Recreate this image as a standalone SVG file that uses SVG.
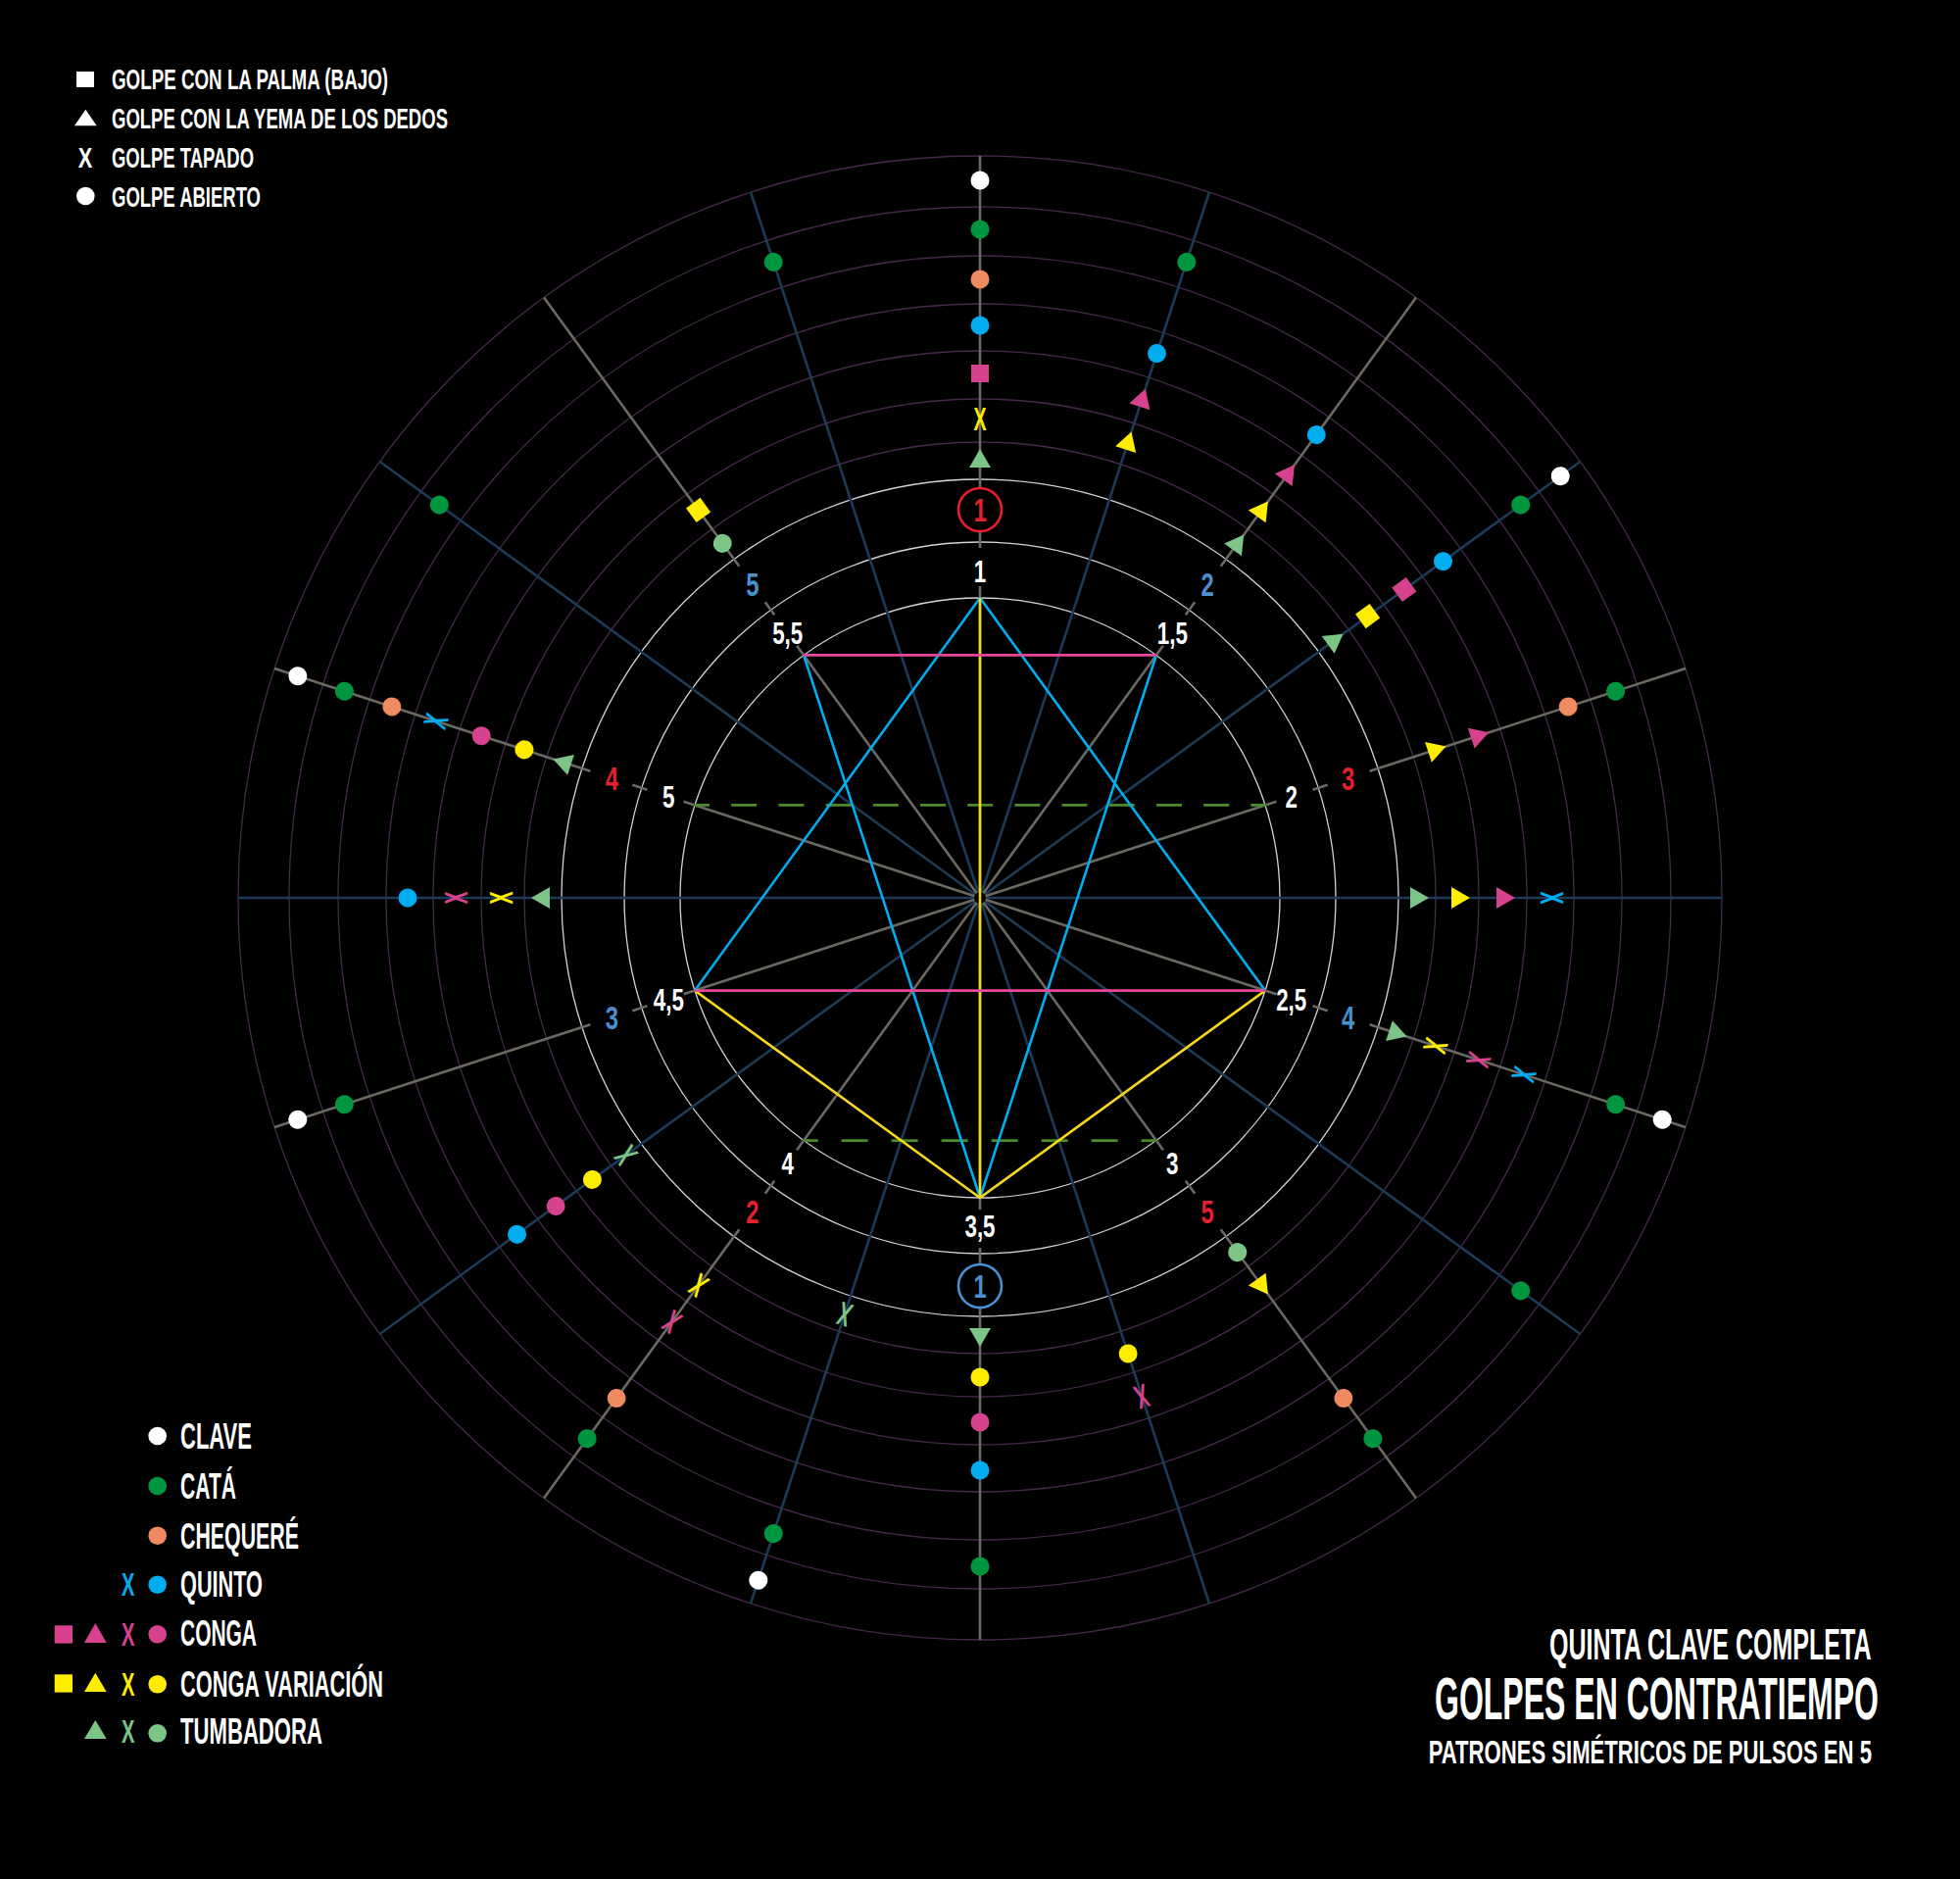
<svg xmlns="http://www.w3.org/2000/svg" xmlns:xlink="http://www.w3.org/1999/xlink" width="2000" height="1917" viewBox="0 0 2000 1917">
<style>
text{font-family:"Liberation Sans",Arial,sans-serif;font-weight:bold}
.ring{fill:none;stroke:#46294b;stroke-width:1.3}
.wring{fill:none;stroke:#d4d4d4;stroke-width:1.3}
.gray line{stroke:#6b6a62;stroke-width:2.6}
.blue{stroke:#1d3a57;stroke-width:2.6}
.pl{fill:none;stroke-width:2.6;stroke-linejoin:round}
.cl{fill:#ffffff}.ca{fill:#009640}.ch{fill:#f08a60}.qu{fill:#00aeef}.co{fill:#d6428e}.cv{fill:#ffed00}.tu{fill:#7dc487}
.lw{fill:#ffffff;font-size:32px;text-anchor:middle}
.lr{fill:#e3202c;font-size:34px;text-anchor:middle}
.lb{fill:#4a8fd0;font-size:34px;text-anchor:middle}
.leg{fill:#ffffff;font-size:29px}
.leg2{fill:#ffffff;font-size:37px}
.ttl{fill:#ffffff;text-anchor:end}
</style>
<defs>
<circle id="d" r="9.5"/>
<rect id="s" x="-9" y="-9" width="18" height="18"/>
<polygon id="t" points="0,-11 11,8 -11,8"/>
<text id="x" transform="scale(0.575 1)" y="12" text-anchor="middle" font-size="34">X</text>
<g id="gr" class="gray">
<line x1="1000" y1="916" x2="1000" y2="598"/>
<line x1="1000" y1="559" x2="1000" y2="543"/>
<line x1="1000" y1="498" x2="1000" y2="159"/>
</g>
<line id="br" class="blue" x1="1000" y1="916" x2="1000" y2="159"/>
</defs>
<rect width="2000" height="1917" fill="#000000"/>

<g id="rings">
<circle class="ring" cx="1000" cy="916" r="757"/>
<circle class="ring" cx="1000" cy="916" r="705"/>
<circle class="ring" cx="1000" cy="916" r="655"/>
<circle class="ring" cx="1000" cy="916" r="606"/>
<circle class="ring" cx="1000" cy="916" r="558"/>
<circle class="ring" cx="1000" cy="916" r="509"/>
<circle class="ring" cx="1000" cy="916" r="465"/>
<circle class="wring" cx="1000" cy="916" r="427"/>
<circle class="wring" cx="1000" cy="916" r="363"/>
<circle class="wring" cx="1000" cy="916" r="306"/>
</g>

<g id="connectors">
<g id="rays-blue">
<use href="#br" transform="rotate(18 1000 916)"/>
<use href="#br" transform="rotate(54 1000 916)"/>
<use href="#br" transform="rotate(90 1000 916)"/>
<use href="#br" transform="rotate(126 1000 916)"/>
<use href="#br" transform="rotate(162 1000 916)"/>
<use href="#br" transform="rotate(198 1000 916)"/>
<use href="#br" transform="rotate(234 1000 916)"/>
<use href="#br" transform="rotate(270 1000 916)"/>
<use href="#br" transform="rotate(306 1000 916)"/>
<use href="#br" transform="rotate(342 1000 916)"/>
</g>
<g id="rays-gray">
<use href="#gr"/>
<use href="#gr" transform="rotate(36 1000 916)"/>
<use href="#gr" transform="rotate(72 1000 916)"/>
<use href="#gr" transform="rotate(108 1000 916)"/>
<use href="#gr" transform="rotate(144 1000 916)"/>
<use href="#gr" transform="rotate(180 1000 916)"/>
<use href="#gr" transform="rotate(216 1000 916)"/>
<use href="#gr" transform="rotate(252 1000 916)"/>
<use href="#gr" transform="rotate(288 1000 916)"/>
<use href="#gr" transform="rotate(324 1000 916)"/>
</g>
<circle cx="1000" cy="916" r="6" fill="#000000"/>
<g id="polygons">
<line class="pl" x1="709" y1="821.4" x2="1291" y2="821.4" stroke="#4a8c2a" stroke-dasharray="26 22.2" stroke-dashoffset="11"/>
<line class="pl" x1="820.1" y1="1163.6" x2="1179.9" y2="1163.6" stroke="#4a8c2a" stroke-dasharray="27 24" stroke-dashoffset="12.5"/>
<polyline class="pl" points="709,1010.6 1000,610 1291,1010.6" stroke="#00aeef"/>
<polyline class="pl" points="820.1,668.4 1000,1222 1179.9,668.4" stroke="#00aeef"/>
<line class="pl" x1="1000" y1="610" x2="1000" y2="1222" stroke="#f9d71c"/>
<polyline class="pl" points="709,1010.6 1000,1222 1291,1010.6" stroke="#f9d71c"/>
<line class="pl" x1="820.1" y1="668.4" x2="1179.9" y2="668.4" stroke="#e8489a"/>
<line class="pl" x1="709" y1="1010.6" x2="1291" y2="1010.6" stroke="#e8489a"/>
</g>
</g>

<g id="labels-inner">
<text class="lw" transform="translate(1000 593.5) scale(0.7 1)">1</text>
<text class="lw" transform="translate(1196.3 657.3) scale(0.7 1)">1,5</text>
<text class="lw" transform="translate(1317.7 824.3) scale(0.7 1)">2</text>
<text class="lw" transform="translate(1317.7 1030.7) scale(0.7 1)">2,5</text>
<text class="lw" transform="translate(1196.3 1197.7) scale(0.7 1)">3</text>
<text class="lw" transform="translate(1000 1262) scale(0.7 1)">3,5</text>
<text class="lw" transform="translate(803.7 1197.7) scale(0.7 1)">4</text>
<text class="lw" transform="translate(682.3 1030.7) scale(0.7 1)">4,5</text>
<text class="lw" transform="translate(682.3 824.3) scale(0.7 1)">5</text>
<text class="lw" transform="translate(803.7 657.3) scale(0.7 1)">5,5</text>
</g>
<g id="labels-outer">
<g id="start-red">
<circle cx="1000" cy="520" r="22" fill="none" stroke="#e3202c" stroke-width="2.6"/>
<text class="lr" transform="translate(1000 532) scale(0.7 1)">1</text>
</g>
<g id="start-blue">
<circle cx="1000" cy="1312" r="22" fill="none" stroke="#4a8fd0" stroke-width="2.6"/>
<text class="lb" transform="translate(1000 1324) scale(0.7 1)">1</text>
</g>
<text class="lb" transform="translate(1232.2 608.4) scale(0.7 1)">2</text>
<text class="lr" transform="translate(1375.7 805.9) scale(0.7 1)">3</text>
<text class="lb" transform="translate(1375.7 1050.1) scale(0.7 1)">4</text>
<text class="lr" transform="translate(1232.2 1247.6) scale(0.7 1)">5</text>
<text class="lr" transform="translate(767.8 1247.6) scale(0.7 1)">2</text>
<text class="lb" transform="translate(624.3 1050.1) scale(0.7 1)">3</text>
<text class="lr" transform="translate(624.3 805.9) scale(0.7 1)">4</text>
<text class="lb" transform="translate(767.8 608.4) scale(0.7 1)">5</text>
</g>

<g id="markers">
<g id="m0">
<use href="#t" class="tu" transform="translate(1000 469)"/>
<use href="#x" class="cv" transform="translate(1000 427)"/>
<use href="#s" class="co" transform="translate(1000 381)"/>
<use href="#d" class="qu" transform="translate(1000 332)"/>
<use href="#d" class="ch" transform="translate(1000 285)"/>
<use href="#d" class="ca" transform="translate(1000 234)"/>
<use href="#d" class="cl" transform="translate(1000 184)"/>
</g>
<g id="m18" transform="rotate(18 1000 916)">
<use href="#d" class="ca" transform="translate(1000 234)"/>
<use href="#d" class="qu" transform="translate(1000 332)"/>
<use href="#t" class="co" transform="translate(1000 381)"/>
<use href="#t" class="cv" transform="translate(1000 427)"/>
</g>
<g id="m36" transform="rotate(36 1000 916)">
<use href="#d" class="qu" transform="translate(1000 332)"/>
<use href="#t" class="co" transform="translate(1000 381)"/>
<use href="#t" class="cv" transform="translate(1000 427)"/>
<use href="#t" class="tu" transform="translate(1000 469)"/>
</g>
<g id="m54" transform="rotate(54 1000 916)">
<use href="#d" class="cl" transform="translate(1000 184)"/>
<use href="#d" class="ca" transform="translate(1000 234)"/>
<use href="#d" class="qu" transform="translate(1000 332)"/>
<use href="#s" class="co" transform="translate(1000 381)"/>
<use href="#s" class="cv" transform="translate(1000 427)"/>
<use href="#t" class="tu" transform="translate(1000 469)"/>
</g>
<g id="m72" transform="rotate(72 1000 916)">
<use href="#d" class="ca" transform="translate(1000 234)"/>
<use href="#d" class="ch" transform="translate(1000 285)"/>
<use href="#t" class="co" transform="translate(1000 381)"/>
<use href="#t" class="cv" transform="translate(1000 427)"/>
</g>
<g id="m90" transform="rotate(90 1000 916)">
<use href="#t" class="tu" transform="translate(1000 469)"/>
<use href="#t" class="cv" transform="translate(1000 427)"/>
<use href="#t" class="co" transform="translate(1000 381)"/>
<use href="#x" class="qu" transform="translate(1000 332)"/>
</g>
<g id="m108" transform="rotate(108 1000 916)">
<use href="#t" class="tu" transform="translate(1000 469)"/>
<use href="#x" class="cv" transform="translate(1000 427)"/>
<use href="#x" class="co" transform="translate(1000 381)"/>
<use href="#x" class="qu" transform="translate(1000 332)"/>
<use href="#d" class="ca" transform="translate(1000 234)"/>
<use href="#d" class="cl" transform="translate(1000 184)"/>
</g>
<g id="m126" transform="rotate(126 1000 916)">
<use href="#d" class="ca" transform="translate(1000 234)"/>
</g>
<g id="m144" transform="rotate(144 1000 916)">
<use href="#d" class="tu" transform="translate(1000 469)"/>
<use href="#t" class="cv" transform="translate(1000 427)"/>
<use href="#d" class="ch" transform="translate(1000 285)"/>
<use href="#d" class="ca" transform="translate(1000 234)"/>
</g>
<g id="m162" transform="rotate(162 1000 916)">
<use href="#d" class="cv" transform="translate(1000 427)"/>
<use href="#x" class="co" transform="translate(1000 381)"/>
</g>
<g id="m180" transform="rotate(180 1000 916)">
<use href="#t" class="tu" transform="translate(1000 469)"/>
<use href="#d" class="cv" transform="translate(1000 427)"/>
<use href="#d" class="co" transform="translate(1000 381)"/>
<use href="#d" class="qu" transform="translate(1000 332)"/>
<use href="#d" class="ca" transform="translate(1000 234)"/>
</g>
<g id="m198" transform="rotate(198 1000 916)">
<use href="#x" class="tu" transform="translate(1000 469)"/>
<use href="#d" class="ca" transform="translate(1000 234)"/>
<use href="#d" class="cl" transform="translate(1000 184)"/>
</g>
<g id="m216" transform="rotate(216 1000 916)">
<use href="#x" class="cv" transform="translate(1000 427)"/>
<use href="#x" class="co" transform="translate(1000 381)"/>
<use href="#d" class="ch" transform="translate(1000 285)"/>
<use href="#d" class="ca" transform="translate(1000 234)"/>
</g>
<g id="m234" transform="rotate(234 1000 916)">
<use href="#x" class="tu" transform="translate(1000 469)"/>
<use href="#d" class="cv" transform="translate(1000 427)"/>
<use href="#d" class="co" transform="translate(1000 381)"/>
<use href="#d" class="qu" transform="translate(1000 332)"/>
</g>
<g id="m252" transform="rotate(252 1000 916)">
<use href="#d" class="ca" transform="translate(1000 234)"/>
<use href="#d" class="cl" transform="translate(1000 184)"/>
</g>
<g id="m270" transform="rotate(270 1000 916)">
<use href="#t" class="tu" transform="translate(1000 469)"/>
<use href="#x" class="cv" transform="translate(1000 427)"/>
<use href="#x" class="co" transform="translate(1000 381)"/>
<use href="#d" class="qu" transform="translate(1000 332)"/>
</g>
<g id="m288" transform="rotate(288 1000 916)">
<use href="#t" class="tu" transform="translate(1000 469)"/>
<use href="#d" class="cv" transform="translate(1000 427)"/>
<use href="#d" class="co" transform="translate(1000 381)"/>
<use href="#x" class="qu" transform="translate(1000 332)"/>
<use href="#d" class="ch" transform="translate(1000 285)"/>
<use href="#d" class="ca" transform="translate(1000 234)"/>
<use href="#d" class="cl" transform="translate(1000 184)"/>
</g>
<g id="m306" transform="rotate(306 1000 916)">
<use href="#d" class="ca" transform="translate(1000 234)"/>
</g>
<g id="m324" transform="rotate(324 1000 916)">
<use href="#d" class="tu" transform="translate(1000 469)"/>
<use href="#s" class="cv" transform="translate(1000 427)"/>
</g>
<g id="m342" transform="rotate(342 1000 916)">
<use href="#d" class="ca" transform="translate(1000 234)"/>
</g>
</g>

<g id="legend-strokes">
<rect x="78" y="73" width="18" height="16" fill="#ffffff"/>
<text class="leg" x="114" y="91" textLength="282" lengthAdjust="spacingAndGlyphs">GOLPE CON LA PALMA (BAJO)</text>
<polygon points="87.3,111.7 98.7,128.3 76,128.3" fill="#ffffff"/>
<text class="leg" x="114" y="131" textLength="343" lengthAdjust="spacingAndGlyphs">GOLPE CON LA YEMA DE LOS DEDOS</text>
<text class="leg" transform="translate(87 170.5) scale(0.75 1)" text-anchor="middle">X</text>
<text class="leg" x="114" y="170.5" textLength="145" lengthAdjust="spacingAndGlyphs">GOLPE TAPADO</text>
<circle cx="87.3" cy="200" r="9.3" fill="#ffffff"/>
<text class="leg" x="114" y="210.5" textLength="152" lengthAdjust="spacingAndGlyphs">GOLPE ABIERTO</text>
</g>

<g id="legend-instruments">
<circle class="cl" cx="160.7" cy="1465" r="9.3"/>
<text class="leg2" x="184" y="1478" textLength="73" lengthAdjust="spacingAndGlyphs">CLAVE</text>
<circle class="ca" cx="160.7" cy="1516" r="9.3"/>
<text class="leg2" x="184" y="1529" textLength="57" lengthAdjust="spacingAndGlyphs">CATÁ</text>
<circle class="ch" cx="160.7" cy="1566.7" r="9.3"/>
<text class="leg2" x="184" y="1579.5" textLength="121" lengthAdjust="spacingAndGlyphs">CHEQUERÉ</text>
<text class="qu" font-size="32.5" text-anchor="middle" transform="translate(130.8 1628.3) scale(0.62 1)">X</text>
<circle class="qu" cx="160.7" cy="1616.7" r="9.3"/>
<text class="leg2" x="184" y="1629.3" textLength="84" lengthAdjust="spacingAndGlyphs">QUINTO</text>
<rect class="co" x="55.7" y="1658.3" width="18.3" height="18.3"/>
<polygon class="co" points="97.3,1656 108.7,1676 86,1676"/>
<text class="co" font-size="32.5" text-anchor="middle" transform="translate(130.8 1679) scale(0.62 1)">X</text>
<circle class="co" cx="160.7" cy="1667.3" r="9.3"/>
<text class="leg2" x="184" y="1679.3" textLength="78" lengthAdjust="spacingAndGlyphs">CONGA</text>
<rect class="cv" x="55.7" y="1708.3" width="18.3" height="18.3"/>
<polygon class="cv" points="97.3,1706.7 108.7,1726 86,1726"/>
<text class="cv" font-size="32.5" text-anchor="middle" transform="translate(130.8 1729.5) scale(0.62 1)">X</text>
<circle class="cv" cx="160.7" cy="1718.3" r="9.3"/>
<text class="leg2" x="184" y="1730.5" textLength="207" lengthAdjust="spacingAndGlyphs">CONGA VARIACIÓN</text>
<polygon class="tu" points="97.3,1755 108.7,1774 86,1774"/>
<text class="tu" font-size="32.5" text-anchor="middle" transform="translate(130.8 1778) scale(0.62 1)">X</text>
<circle class="tu" cx="160.7" cy="1768.3" r="9.3"/>
<text class="leg2" x="184" y="1779.3" textLength="145" lengthAdjust="spacingAndGlyphs">TUMBADORA</text>
</g>

<g id="title">
<text class="ttl" transform="translate(1909.5 1693) scale(0.569 1)" font-size="44">QUINTA CLAVE COMPLETA</text>
<text class="ttl" transform="translate(1917 1753.5) scale(0.525 1)" font-size="61">GOLPES EN CONTRATIEMPO</text>
<text class="ttl" transform="translate(1910 1799) scale(0.67 1)" font-size="33">PATRONES SIMÉTRICOS DE PULSOS EN 5</text>
</g>
</svg>
